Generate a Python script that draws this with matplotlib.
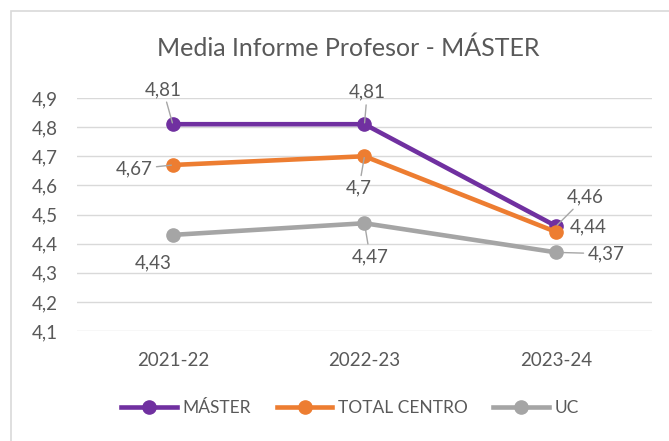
import matplotlib
matplotlib.use("Agg")
import matplotlib.pyplot as plt
from matplotlib.patches import Rectangle
from matplotlib.lines import Line2D

plt.rcParams['font.family'] = ['Lato', 'DejaVu Sans']

years = ['2021-22', '2022-23', '2023-24']
master = [4.81, 4.81, 4.46]
total_centro = [4.67, 4.70, 4.44]
uc = [4.43, 4.47, 4.37]

series = [
    ('MÁSTER', master, '#7030A0'),
    ('TOTAL CENTRO', total_centro, '#ED7D31'),
    ('UC', uc, '#A5A5A5'),
]

# label offsets in points from each point, and whether a leader line is drawn
label_pos = {
    'MÁSTER': [((-7, 25), True), ((2, 23), True), ((21, 21), True)],
    'TOTAL CENTRO': [((-28, -3), True), ((-4, -23), True), ((23, 4), False)],
    'UC': [((-14, -20), False), ((4, -24), True), ((36, -1), True)],
}

txt = '#595959'
fig = plt.figure(figsize=(6.69, 4.41), dpi=100)
ax = fig.add_axes([0.115, 0.2494, 0.8596, 0.5284])

# chart frame
fig.patches.append(Rectangle((11 / 669, -0.5), 2, 1 - 11 / 441 + 0.5,
                             transform=fig.transFigure, fill=False,
                             edgecolor='#D9D9D9', lw=1.2, zorder=0))

x = [0.5, 1.5, 2.5]
for name, vals, col in series:
    ax.plot(x, vals, color=col, lw=3.3, marker='o', ms=9.5, zorder=3,
            solid_capstyle='round')
    for xi, v, (off, leader) in zip(x, vals, label_pos[name]):
        ap = dict(arrowstyle='-', color='#A6A6A6', lw=1, shrinkA=1, shrinkB=1) if leader else None
        ax.annotate(('%g' % v).replace('.', ','), (xi, v), xytext=off,
                    textcoords='offset points', ha='center', va='center',
                    fontsize=13.5, color=txt, arrowprops=ap, zorder=4)

ax.set_xlim(0, 3)
ax.set_ylim(4.1, 4.9)
ax.set_xticks(x)
ax.set_xticklabels(years)
yt = [4.1, 4.2, 4.3, 4.4, 4.5, 4.6, 4.7, 4.8, 4.9]
ax.set_yticks(yt)
ax.set_yticklabels([('%.1f' % t).replace('.', ',') for t in yt])
ax.tick_params(length=0, labelsize=13.5, colors=txt)
ax.tick_params(axis='y', pad=14)
ax.tick_params(axis='x', pad=15)
ax.grid(axis='y', color='#D9D9D9', lw=1)
ax.set_axisbelow(True)
for s in ax.spines.values():
    s.set_visible(False)

fig.text(348 / 669, 1 - 48 / 441, 'Media Informe Profesor - MÁSTER',
         ha='center', va='center', fontsize=18, color=txt)

handles = [Line2D([], [], color=c, lw=3.3, marker='o', ms=9.5) for _, _, c in series]
fig.legend(handles, [n for n, _, _ in series], loc='center',
           bbox_to_anchor=(350 / 669, 1 - 408 / 441), ncol=3, frameon=False,
           fontsize=12.5, labelcolor=txt, handlelength=3.2, handletextpad=0.3,
           columnspacing=1.5)

fig.savefig('out.png', dpi=100)
